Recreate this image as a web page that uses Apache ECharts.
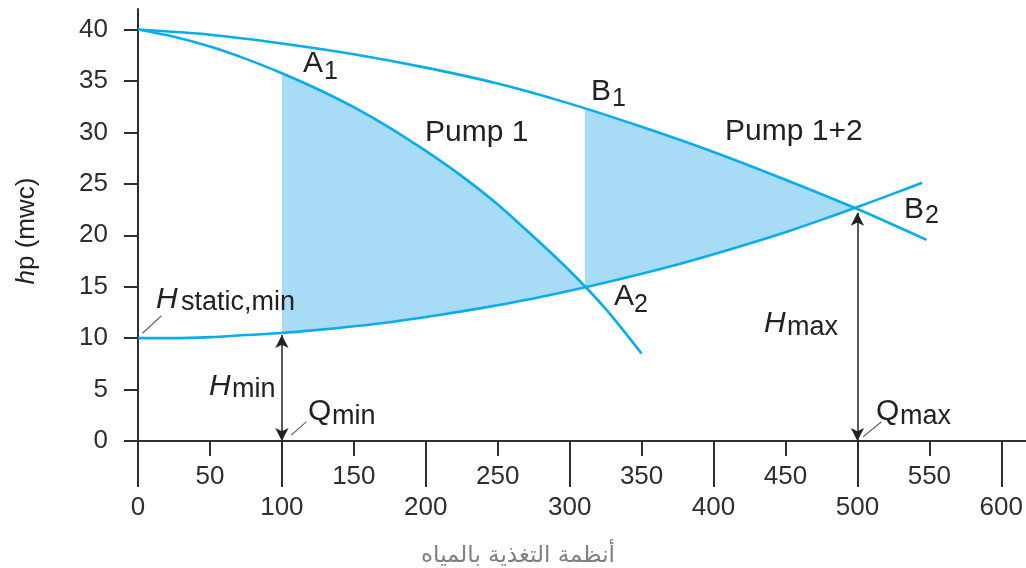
<!DOCTYPE html>
<html>
<head>
<meta charset="utf-8">
<script src="https://cdn.jsdelivr.net/npm/echarts@6/dist/echarts.min.js"></script>
<style>
html,body{margin:0;padding:0;background:#fff;}
#chart{width:1026px;height:568px;}
</style>
</head>
<body>
<div id="chart"></div>
<script>
// ---- data ----
const Q_PUMP1 = [0, 25, 50, 75, 100, 125, 150, 175, 200, 225, 250, 275, 300, 325, 350];
const H_PUMP1 = [40, 39.3, 38.35, 37.15, 35.75, 34.2, 32.45, 30.45, 28.2, 25.75, 23.0, 19.85, 16.55, 12.85, 8.5];

const Q_PUMP12 = [0, 50, 100, 150, 200, 250, 300, 350, 400, 450, 500, 548];
const H_PUMP12 = [40, 39.5, 38.65, 37.6, 36.3, 34.75, 32.8, 30.55, 28.1, 25.4, 22.55, 19.55];

const Q_SYSTEM = [0, 25, 50, 75, 100, 125, 150, 175, 200, 225, 250, 275, 300, 325, 350, 375, 400, 425, 450, 475, 500, 525, 545];
const H_SYSTEM = [10, 10.0, 10.1, 10.3, 10.5, 10.8, 11.15, 11.55, 12.05, 12.6, 13.2, 13.85, 14.6, 15.4, 16.25, 17.15, 18.15, 19.2, 20.3, 21.5, 22.75, 24.05, 25.1];

// operating points
const A1 = [100, 35.75];
const A2 = [310.5, 14.9];
const B1 = [310.5, 32.35];
const B2 = [498, 22.62];
const Q_MIN = 100, H_MIN_TOP = 10.3;
const Q_MAX = 500, H_MAX_TOP = 22.2;

// tick values
const X_MAJOR = [0, 100, 200, 300, 400, 500, 600];
const X_MINOR = [50, 150, 250, 350, 450, 550];
const Y_TICKS = [0, 5, 10, 15, 20, 25, 30, 35, 40];

// ---- build ----
const zip = (qs, hs) => qs.map((q, i) => [q, hs[i]]);
const pump1 = zip(Q_PUMP1, H_PUMP1);
const pump12 = zip(Q_PUMP12, H_PUMP12);
const system = zip(Q_SYSTEM, H_SYSTEM);

const inside = (arr, lo, hi) => arr.filter(p => p[0] > lo && p[0] < hi);
const region1 = [A1].concat(inside(pump1, A1[0], A2[0]), [A2],
  inside(system, A1[0], A2[0]).reverse(), [[A1[0], 10.5]]);
const region2 = [B1].concat(inside(pump12, B1[0], B2[0]), [B2],
  inside(system, A2[0], B2[0]).reverse(), [A2]);

const LINE = '#08adec';
const FILL = '#a8dbf6';
const AX = '#2e2e2e';
const FONT = 'Liberation Sans, Arial, sans-serif';

const chart = echarts.init(document.getElementById('chart'), null, {renderer: 'canvas'});

function txt(x, y, text, size, italic) {
  return {
    type: 'text', x: x, y: y, silent: true, z: 100,
    style: {text: text, fontSize: size, fontFamily: FONT, fontStyle: italic ? 'italic' : 'normal',
      fill: '#222', align: 'left', verticalAlign: 'middle'}
  };
}

const labelStyle = {fontSize: 26, color: AX, fontFamily: FONT};

const option = {
  animation: false,
  grid: {left: 138, right: 0, top: 9, bottom: 127},
  xAxis: [
    {
      type: 'value', min: 0, max: 617, position: 'bottom',
      axisLine: {show: true, lineStyle: {color: AX, width: 2}},
      axisTick: {show: true, customValues: X_MAJOR, length: 46, lineStyle: {color: AX, width: 2}},
      axisLabel: Object.assign({customValues: X_MAJOR, margin: 54}, labelStyle),
      splitLine: {show: false}
    },
    {
      type: 'value', min: 0, max: 617, position: 'bottom', offset: 0,
      axisLine: {show: false},
      axisTick: {show: true, customValues: X_MINOR, length: 15, lineStyle: {color: AX, width: 2}},
      axisLabel: Object.assign({customValues: X_MINOR, margin: 23}, labelStyle),
      splitLine: {show: false}
    }
  ],
  yAxis: {
    type: 'value', min: 0, max: 42,
    axisLine: {show: true, lineStyle: {color: AX, width: 2}},
    axisTick: {show: true, customValues: Y_TICKS, length: 14, lineStyle: {color: AX, width: 2}},
    axisLabel: Object.assign({customValues: Y_TICKS, margin: 30, padding: [0, 0, 7, 0]}, labelStyle),
    splitLine: {show: false}
  },
  series: [
    {
      type: 'custom', xAxisIndex: 0, z: 1, silent: true,
      data: [[0, 0]],
      renderItem: function (params, api) {
        const toPx = pts => pts.map(p => api.coord(p));
        return {
          type: 'group',
          children: [
            {type: 'polygon', shape: {points: toPx(region1)}, style: {fill: FILL}},
            {type: 'polygon', shape: {points: toPx(region2)}, style: {fill: FILL}}
          ]
        };
      }
    },
    {
      name: 'Pump 1', type: 'line', data: pump1, smooth: 0.3, showSymbol: false, z: 3,
      lineStyle: {color: LINE, width: 2.6}
    },
    {
      name: 'Pump 1+2', type: 'line', data: pump12, smooth: 0.3, showSymbol: false, z: 3,
      lineStyle: {color: LINE, width: 2.6}
    },
    {
      name: 'System', type: 'line', data: system, smooth: 0.3, showSymbol: false, z: 3,
      lineStyle: {color: LINE, width: 2.6},
      markLine: {
        silent: true, animation: false,
        symbol: ['arrow', 'arrow'], symbolSize: [10, 13],
        label: {show: false},
        lineStyle: {color: '#222', width: 1.5, type: 'solid'},
        data: [
          [{coord: [Q_MIN, 0]}, {coord: [Q_MIN, H_MIN_TOP]}],
          [{coord: [Q_MAX, 0]}, {coord: [Q_MAX, H_MAX_TOP]}]
        ]
      }
    },
    {
      type: 'line', data: [], z: 4,
      markLine: {
        silent: true, animation: false, symbol: 'none',
        label: {show: false},
        lineStyle: {color: '#666', width: 1.2, type: 'solid'},
        data: [
          [{coord: [3.1, 10.47]}, {coord: [16.3, 12.18]}],
          [{coord: [106.6, 0.58]}, {coord: [117.1, 1.88]}],
          [{coord: [504, 0.42]}, {coord: [516.7, 1.88]}]
        ]
      }
    }
  ],
  graphic: [
    // curve labels
    txt(303, 64, 'A', 30), txt(324, 72, '1', 25),
    txt(425, 133, 'Pump 1', 30),
    txt(591, 92, 'B', 30), txt(612, 99, '1', 25),
    txt(725, 132, 'Pump 1+2', 30),
    txt(904, 210, 'B', 30), txt(925, 216, '2', 25),
    txt(614, 297, 'A', 30), txt(634, 305, '2', 25),
    // H static,min
    txt(156, 300, 'H', 30, true), txt(181, 303, 'static,min', 27),
    // H min / Q min
    txt(209, 387, 'H', 30, true), txt(232, 390, 'min', 27),
    txt(308, 412, 'Q', 30), txt(332, 417, 'min', 27),
    // H max / Q max
    txt(764, 324, 'H', 30, true), txt(787, 328, 'max', 27),
    txt(876, 412, 'Q', 30), txt(900, 417, 'max', 27),
    // y axis name
    {
      type: 'text', x: 27, y: 231, rotation: Math.PI / 2, silent: true,
      style: {
        text: '{i|h}p (mwc)', fontSize: 26, fontFamily: FONT, fill: '#222',
        align: 'center', verticalAlign: 'middle',
        rich: {i: {fontStyle: 'italic', fontSize: 26, fontFamily: FONT, fill: '#222'}}
      }
    },
    // caption
    {
      type: 'text', x: 518, y: 556, silent: true,
      style: {text: 'أنظمة التغذية بالمياه', fontSize: 23, fontFamily: 'DejaVu Sans',
        fill: '#7f7f7f', align: 'center', verticalAlign: 'middle'}
    }
  ]
};

chart.setOption(option);
</script>
</body>
</html>
